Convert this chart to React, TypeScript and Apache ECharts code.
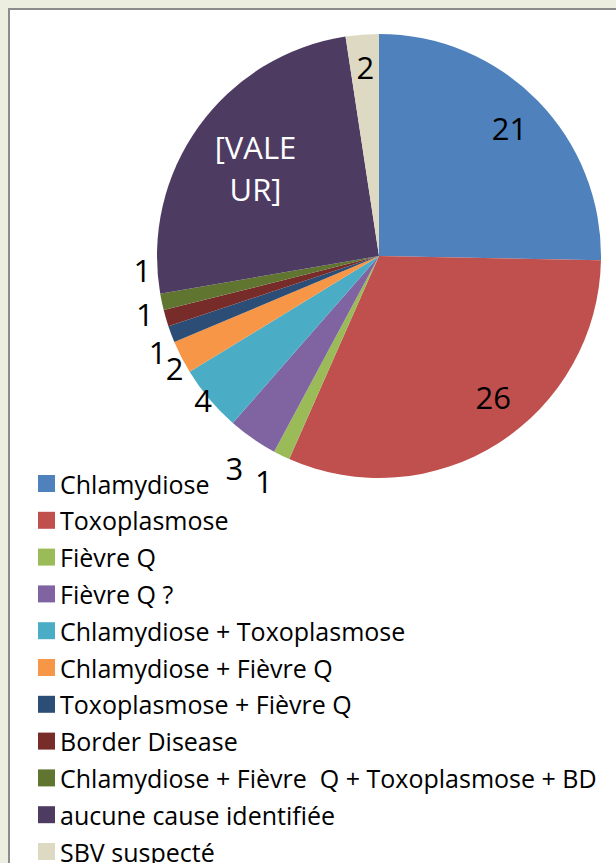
import React, { useEffect, useRef } from "react";
import * as echarts from "echarts";

const categories = [
  "Chlamydiose",
  "Toxoplasmose",
  "Fièvre Q",
  "Fièvre Q ?",
  "Chlamydiose + Toxoplasmose",
  "Chlamydiose + Fièvre Q",
  "Toxoplasmose + Fièvre Q",
  "Border Disease",
  "Chlamydiose + Fièvre  Q + Toxoplasmose + BD",
  "aucune cause identifiée",
  "SBV suspecté",
];
const values = [21, 26, 1, 3, 4, 2, 1, 1, 1, 21, 2];
const valueLabels = ["21", "26", "1", "3", "4", "2", "1", "1", "1", "[VALE\nUR]", "2"];
const colors = [
  "#4F81BD",
  "#C0504D",
  "#9BBB59",
  "#8064A2",
  "#4BACC6",
  "#F79646",
  "#2C4D75",
  "#772C2A",
  "#5F7530",
  "#4D3B62",
  "#DDD9C3",
];
const labelInside = [true, true, false, false, false, false, false, false, false, true, true];
const labelOffsets: number[][] = [
  [49, -48],
  [53, 45],
  [0, 8],
  [2, 13],
  [18, -12],
  [20, 2],
  [14, 11],
  [7, -10],
  [9, -36],
  [-31, -21],
  [-5, -75],
];
const labelColors = ["#000", "#000", "#000", "#000", "#000", "#000", "#000", "#000", "#000", "#fff", "#000"];

export default function App() {
  const ref = useRef<HTMLDivElement>(null);
  useEffect(() => {
    if (!ref.current) return;
    const chart = echarts.init(ref.current, undefined, { renderer: "svg" });
    const data = values.map((v, i) => ({
      name: categories[i],
      value: v,
      itemStyle: { color: colors[i] },
      label: {
        show: true,
        position: labelInside[i] ? "inside" : "outside",
        formatter: () => valueLabels[i],
        offset: labelOffsets[i],
        color: labelColors[i],
        fontFamily: "Open Sans",
        fontSize: 31,
        lineHeight: 42,
        distanceToLabelLine: 0,
      },
      labelLine: { show: false, length: 20, length2: 0 },
    }));
    chart.setOption({
      animation: false,
      backgroundColor: "transparent",
      legend: {
        orient: "vertical",
        left: 38,
        top: 470,
        height: 440,
        padding: 0,
        itemWidth: 17,
        itemHeight: 17,
        itemGap: 9.8,
        icon: "rect",
        data: categories,
        textStyle: {
          fontFamily: "Open Sans",
          fontSize: 25,
          lineHeight: 27,
          color: "#000",
        },
      },
      series: [
        {
          type: "pie",
          center: [379, 256],
          radius: 222,
          startAngle: 90,
          clockwise: true,
          avoidLabelOverlap: false,
          labelLayout: { hideOverlap: false },
          data,
        },
      ],
    });
    return () => chart.dispose();
  }, []);
  return (
    <div
      style={{
        position: "fixed",
        left: 0,
        top: 0,
        width: 616,
        height: 863,
        background: "#ECEEDF",
        overflow: "hidden",
      }}
    >
      <div
        style={{
          position: "absolute",
          left: 8,
          top: 8,
          width: 700,
          height: 1000,
          background: "#fff",
          borderTop: "2px solid #8c8c8c",
          borderLeft: "2px solid #8c8c8c",
        }}
      />
      <div ref={ref} style={{ position: "absolute", left: 0, top: 0, width: 616, height: 920 }} />
    </div>
  );
}
